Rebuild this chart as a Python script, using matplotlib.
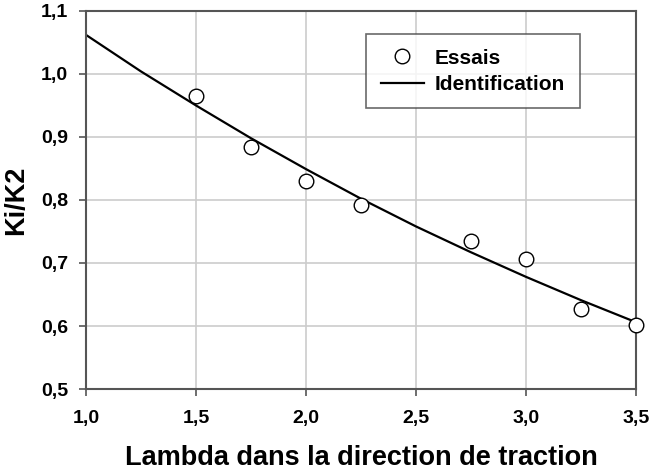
import matplotlib
matplotlib.use("Agg")
import matplotlib.pyplot as plt

plt.rcParams['font.family'] = ['Liberation Sans', 'DejaVu Sans']
plt.rcParams['font.weight'] = 'bold'

# essais
lam_essais = [1.5, 1.75, 2.0, 2.25, 2.75, 3.0, 3.25, 3.5]
ki_essais = [0.965, 0.884, 0.830, 0.792, 0.735, 0.706, 0.627, 0.602]

# identification
lam_ident = [1.0, 1.25, 1.5, 1.75, 2.0, 2.25, 2.5, 2.75, 3.0, 3.25, 3.5]
ki_ident = [1.062, 1.004, 0.950, 0.898, 0.849, 0.802, 0.758, 0.717, 0.678, 0.641, 0.606]

xticks = [1.0, 1.5, 2.0, 2.5, 3.0, 3.5]
yticks = [0.5, 0.6, 0.7, 0.8, 0.9, 1.0, 1.1]

fig = plt.figure(figsize=(6.53, 4.72), dpi=100)
ax = fig.add_axes([0.1317, 0.1758, 0.8423, 0.801])

ax.plot(lam_essais, ki_essais, 'o', mfc='white', mec='black', mew=1.0,
        ms=10.5, label='Essais', zorder=3, clip_on=False)
ax.plot(lam_ident, ki_ident, '-', color='black', lw=1.6, label='Identification', zorder=2)

ax.set_xlim(1.0, 3.5)
ax.set_ylim(0.5, 1.1)
ax.set_xticks(xticks)
ax.set_yticks(yticks)
ax.set_xticklabels([f"{v:.1f}".replace('.', ',') for v in xticks], fontsize=14, fontweight='bold')
ax.set_yticklabels([f"{v:.1f}".replace('.', ',') for v in yticks], fontsize=14, fontweight='bold')
ax.tick_params(direction='out', length=5, width=1.2, color='#555555')
ax.tick_params(axis='y', pad=8)
ax.tick_params(axis='x', pad=10)

ax.grid(True, color='#cccccc', lw=1.2)
ax.set_axisbelow(True)
for s in ax.spines.values():
    s.set_color('#555555')
    s.set_linewidth(1.5)

ax.set_xlabel('Lambda dans la direction de traction', fontsize=19.5, fontweight='bold', labelpad=13)
ax.set_ylabel('Ki/K2', fontsize=19.5, fontweight='bold', labelpad=8)

leg = ax.legend(loc='upper left', bbox_to_anchor=(0.509, 0.939), borderaxespad=0,
                fontsize=15, frameon=True, fancybox=False, edgecolor='#444444',
                handlelength=2.1, handletextpad=0.5, borderpad=0.7, labelspacing=0.35)
leg.get_frame().set_linewidth(1.2)
for t in leg.get_texts():
    t.set_fontweight('bold')

fig.savefig('out.png', dpi=100)
